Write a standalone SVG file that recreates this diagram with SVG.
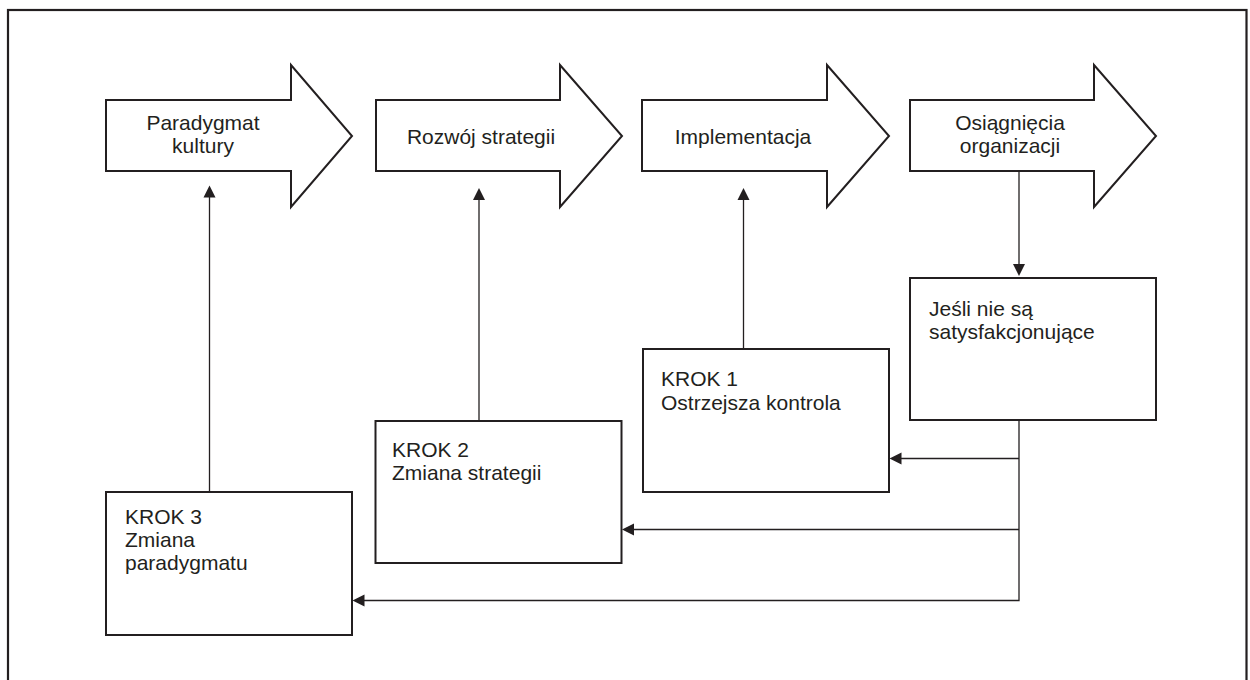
<svg xmlns="http://www.w3.org/2000/svg" width="1250" height="680" viewBox="0 0 1250 680">
<style>
.frame{fill:none;stroke:#231f20;stroke-width:2.2}
.shape{fill:#fff;stroke:#231f20;stroke-width:2}
.conn{fill:none;stroke:#231f20;stroke-width:1.3}
.ah{fill:#231f20;stroke:none}
text{font-family:"Liberation Sans",Arial,sans-serif;font-size:21px;fill:#231f20}
.c{text-anchor:middle}
</style>
<rect width="1250" height="680" fill="#fff"/>
<rect class="frame" x="8" y="10" width="1238.5" height="690"/>
<g id="n_paradygmat">
<polygon class="shape" points="106,100 291,100 291,65 352,136 291,207 291,171 106,171"/>
<text class="c" x="203" y="130">Paradygmat</text>
<text class="c" x="203" y="153">kultury</text>
</g>
<g id="n_rozwoj">
<polygon class="shape" points="376,100 560,100 560,65 622,136 560,207 560,171 376,171"/>
<text class="c" x="481" y="144">Rozwój strategii</text>
</g>
<g id="n_implementacja">
<polygon class="shape" points="642,100 827,100 827,65 889,136 827,207 827,171 642,171"/>
<text class="c" x="743" y="144">Implementacja</text>
</g>
<g id="n_osiagniecia">
<polygon class="shape" points="910,100 1094,100 1094,65 1156,136 1094,207 1094,171 910,171"/>
<text class="c" x="1010" y="130">Osiągnięcia</text>
<text class="c" x="1010" y="153">organizacji</text>
</g>
<g id="n_jesli">
<rect class="shape" x="910" y="278" width="246" height="142"/>
<text x="929" y="316">Jeśli nie są</text>
<text x="929" y="339">satysfakcjonujące</text>
</g>
<g id="n_krok1">
<rect class="shape" x="643" y="349" width="246" height="143"/>
<text x="661" y="386">KROK 1</text>
<text x="661" y="410">Ostrzejsza kontrola</text>
</g>
<g id="n_krok2">
<rect class="shape" x="375.5" y="421" width="246" height="142"/>
<text x="392" y="457">KROK 2</text>
<text x="392" y="480">Zmiana strategii</text>
</g>
<g id="n_krok3">
<rect class="shape" x="106" y="492" width="246" height="143"/>
<text x="125" y="524">KROK 3</text>
<text x="125" y="547">Zmiana</text>
<text x="125" y="570">paradygmatu</text>
</g>
<g id="connectors">
<path class="conn" d="M1019,171 V265"/>
<polygon class="ah" points="1013,264 1025,264 1019,276"/>
<path class="conn" d="M1019,420 V600.5 H362"/>
<path class="conn" d="M1019,458.5 H900"/>
<path class="conn" d="M1019,529.5 H632"/>
<polygon class="ah" points="901.5,452.5 901.5,464.5 889.5,458.5"/>
<polygon class="ah" points="634,523.5 634,535.5 622,529.5"/>
<polygon class="ah" points="364.5,594.5 364.5,606.5 352.5,600.5"/>
<path class="conn" d="M743.5,349 V198"/>
<polygon class="ah" points="737.5,200 749.5,200 743.5,188"/>
<path class="conn" d="M479,421 V198"/>
<polygon class="ah" points="473,200 485,200 479,188"/>
<path class="conn" d="M209.5,492 V196"/>
<polygon class="ah" points="203.5,197.5 215.5,197.5 209.5,185.5"/>
</g>
</svg>
